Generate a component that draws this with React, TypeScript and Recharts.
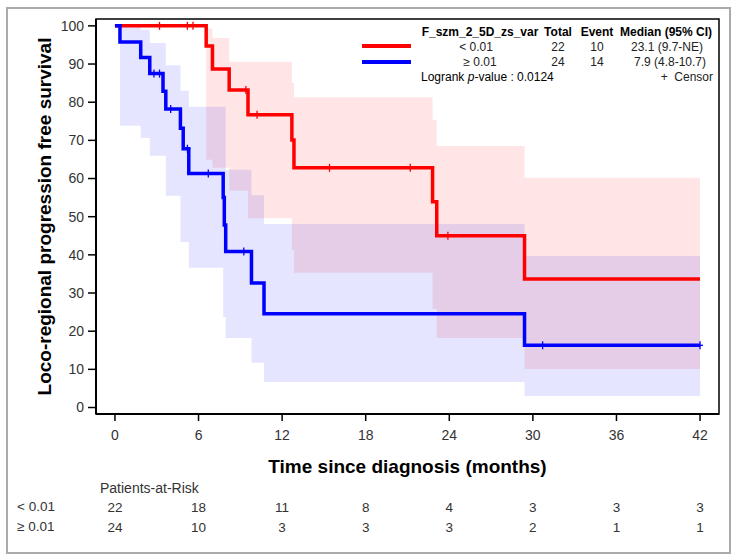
import React from 'react';
import { ComposedChart, Line, Area, Scatter, XAxis, YAxis, ReferenceArea } from 'recharts';

const FONT = '"Liberation Sans", Arial, Helvetica, sans-serif';

const X_TICKS = [0, 6, 12, 18, 24, 30, 36, 42];
const Y_TICKS = [0, 10, 20, 30, 40, 50, 60, 70, 80, 90, 100];
const X_MIN = -1.36;
const X_MAX = 43.36;
const Y_MIN = -1.7;
const Y_MAX = 101.8;

// patients at risk under each x tick
const RISK_LOW = [22, 18, 11, 8, 4, 3, 3, 3];
const RISK_HIGH = [24, 10, 3, 3, 3, 2, 1, 1];

// group < 0.01 (red)
const redTimes = [0, 6.55, 7.0, 8.2, 9.55, 12.7, 12.85, 22.8, 23.1, 29.4, 42];
const redSurv = [100, 94.7, 88.7, 83.2, 76.7, 70.1, 62.8, 53.9, 45.0, 33.7, 33.7];
const redBandTimes = [6.55, 7.0, 8.2, 9.55, 12.7, 12.85, 22.8, 23.1, 29.4, 42];
const redBandLow = [64.9, 62.8, 56.8, 49.6, 41.3, 35.3, 25.8, 18.2, 10.1, 10.1];
const redBandHigh = [99.3, 96.8, 90.6, 90.6, 85.0, 81.3, 75.4, 68.5, 60.2, 60.2];
const redCensorTimes = [3.2, 5.2, 5.6, 9.4, 10.2, 15.4, 21.2, 23.9];
const redCensorSurv = [100, 100, 100, 83.2, 76.7, 62.8, 62.8, 45.0];

// group >= 0.01 (blue)
const blueTimes = [0, 0.36, 1.85, 2.5, 3.45, 3.65, 4.7, 4.9, 5.3, 7.77, 7.85, 7.95, 9.8, 10.7, 29.4, 42];
const blueSurv = [100, 95.8, 91.7, 87.5, 82.9, 78.2, 73.2, 67.8, 61.3, 55.0, 47.8, 40.9, 32.6, 24.6, 16.3, 16.3];
const blueBandTimes = [0.36, 1.85, 2.5, 3.65, 4.7, 5.3, 7.77, 7.95, 9.8, 10.7, 29.4, 42];
const blueBandLow = [73.8, 70.6, 66.0, 55.5, 43.4, 36.6, 23.7, 18.2, 11.7, 6.7, 3.0, 3.0];
const blueBandHigh = [100, 99.0, 95.5, 89.7, 83.0, 78.8, 78.8, 62.3, 55.6, 48.1, 39.7, 39.7];
const blueCensorTimes = [2.8, 3.2, 4.0, 5.2, 6.7, 9.25, 30.7, 42];
const blueCensorSurv = [87.5, 87.5, 78.2, 67.8, 61.3, 40.9, 16.3, 16.3];

const RED = '#ff0000';
const BLUE = '#0000ff';

const toLine = (ts: number[], vs: number[]) => ts.map((t, i) => ({ t, v: vs[i] }));
const toBand = (ts: number[], lo: number[], hi: number[]) => ts.map((t, i) => ({ t, band: [lo[i], hi[i]] }));

const redLine = toLine(redTimes, redSurv);
const blueLine = toLine(blueTimes, blueSurv);
const redBand = toBand(redBandTimes, redBandLow, redBandHigh);
const blueBand = toBand(blueBandTimes, blueBandLow, blueBandHigh);
const redCensor = toLine(redCensorTimes, redCensorSurv);
const blueCensor = toLine(blueCensorTimes, blueCensorSurv);

const plus = (color: string) => (p: any) => (
  <g>
    <line x1={p.cx} x2={p.cx} y1={p.cy - 4} y2={p.cy + 4} stroke={color} strokeWidth={1.3} />
    <line x1={p.cx - 3} x2={p.cx + 3} y1={p.cy} y2={p.cy} stroke={color} strokeWidth={1.3} />
  </g>
);

// month label plus the two at-risk rows below it
const RiskTick = (props: any) => {
  const { x, y, payload } = props;
  const i = X_TICKS.indexOf(payload.value);
  return (
    <g fontFamily={FONT} fill="#333" textAnchor="middle">
      <text x={x} y={y} dy={17} fontSize={14}>{payload.value}</text>
      <text x={x} y={y} dy={89} fontSize={13.5}>{RISK_LOW[i]}</text>
      <text x={x} y={y} dy={109} fontSize={13.5}>{RISK_HIGH[i]}</text>
    </g>
  );
};

const T = ({ x, y, w, align = 'left', size = 12, bold = false, color = '#000', children }: any) => (
  <div
    style={{
      position: 'absolute', left: x, top: y - size / 2, width: w, textAlign: align,
      fontSize: size, lineHeight: `${size}px`, fontWeight: bold ? 'bold' : 'normal',
      color, fontFamily: FONT, whiteSpace: 'nowrap',
    }}
  >
    {children}
  </div>
);

export default function App() {
  return (
    <div style={{ position: 'absolute', left: 0, top: 0, width: 739, height: 560, background: '#fff' }}>
      <div style={{ position: 'absolute', left: 6, top: 7, width: 725, height: 547, border: '2px solid #aaa', boxSizing: 'border-box' }} />
      <div style={{ position: 'absolute', left: 0, top: 0 }}>
        <ComposedChart width={739} height={560} margin={{ top: 19, right: 20, bottom: 106, left: 36 }} style={{ fontFamily: FONT }}>
          <XAxis
            type="number" dataKey="t" domain={[X_MIN, X_MAX]} allowDataOverflow ticks={X_TICKS} interval={0}
            height={40} tickSize={7} axisLine={{ stroke: '#000', strokeWidth: 2 }} tickLine={{ stroke: '#000', strokeWidth: 1.5 }}
            tick={<RiskTick />}
          />
          <YAxis
            type="number" domain={[Y_MIN, Y_MAX]} allowDataOverflow ticks={Y_TICKS} interval={0}
            width={60} tickSize={8} tickMargin={4} axisLine={{ stroke: '#000', strokeWidth: 2 }} tickLine={{ stroke: '#000', strokeWidth: 1.5 }}
            tick={{ fontSize: 14, fill: '#333' }}
          />
          <ReferenceArea x1={X_MIN} x2={X_MAX} y1={Y_MIN} y2={Y_MAX} fill="none" stroke="#000" strokeWidth={1.5} />
          <Area data={redBand} dataKey="band" type="stepAfter" fill={RED} fillOpacity={0.1} stroke="none" isAnimationActive={false} />
          <Area data={blueBand} dataKey="band" type="stepAfter" fill={BLUE} fillOpacity={0.1} stroke="none" isAnimationActive={false} />
          <Line data={redLine} dataKey="v" type="stepAfter" stroke={RED} strokeWidth={3.5} dot={false} isAnimationActive={false} />
          <Line data={blueLine} dataKey="v" type="stepAfter" stroke={BLUE} strokeWidth={3.5} dot={false} isAnimationActive={false} />
          <Scatter data={redCensor} dataKey="v" shape={plus(RED)} isAnimationActive={false} />
          <Scatter data={blueCensor} dataKey="v" shape={plus(BLUE)} isAnimationActive={false} />
        </ComposedChart>
      </div>

      {/* axis titles */}
      <div
        style={{
          position: 'absolute', left: 43.5 - 200, top: 216.5 - 9.5, width: 400, textAlign: 'center',
          transform: 'rotate(-90deg)', fontSize: 19, lineHeight: '19px', fontWeight: 'bold', fontFamily: FONT,
        }}
      >
        Loco-regional progression free survival
      </div>
      <T x={207.5} y={466} w={400} align="center" size={19} bold>Time since diagnosis (months)</T>

      {/* risk table labels */}
      <T x={100} y={488} w={200} size={14} color="#333">Patients-at-Risk</T>
      <T x={17} y={507} w={60} size={13.5} color="#333">&lt; 0.01</T>
      <T x={17} y={527} w={60} size={13.5} color="#333">≥ 0.01</T>

      {/* legend */}
      <div style={{ position: 'absolute', left: 362, top: 44, width: 49, height: 4, background: RED }} />
      <div style={{ position: 'absolute', left: 362, top: 60, width: 49, height: 4, background: BLUE }} />
      <T x={420} y={32} w={120} align="center" bold>F_szm_2_5D_zs_var</T>
      <T x={540} y={32} w={36} align="center" bold>Total</T>
      <T x={577} y={32} w={40} align="center" bold>Event</T>
      <T x={617} y={32} w={98} align="center" bold>Median (95% CI)</T>
      <T x={430} y={47} w={92} align="center" color="#222">&lt; 0.01</T>
      <T x={430} y={62} w={100} align="center" color="#222">≥ 0.01</T>
      <T x={540} y={47} w={36} align="center" color="#222">22</T>
      <T x={540} y={62} w={36} align="center" color="#222">24</T>
      <T x={577} y={47} w={40} align="center" color="#222">10</T>
      <T x={577} y={62} w={40} align="center" color="#222">14</T>
      <T x={617} y={47} w={100} align="center" color="#222">23.1 (9.7-NE)</T>
      <T x={617} y={62} w={106} align="center" color="#222">7.9 (4.8-10.7)</T>
      <T x={421} y={77} w={160}>Logrank <i>p</i>-value : 0.0124</T>
      <T x={613} y={77} w={100} align="right" color="#222">+&nbsp;&nbsp;Censor</T>
    </div>
  );
}
